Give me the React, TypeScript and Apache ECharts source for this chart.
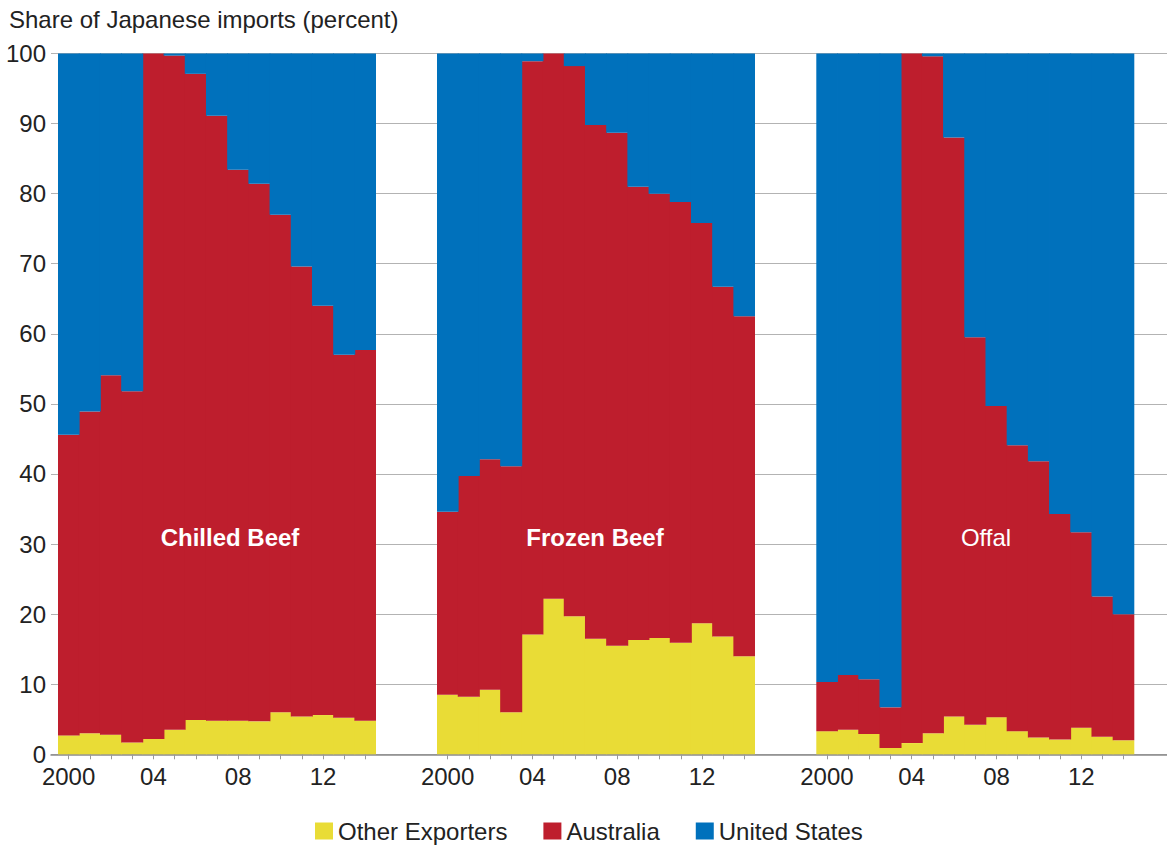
import React, { useEffect, useRef } from "react";
import * as echarts from "echarts";

const FONT = '"Liberation Sans", Arial, Helvetica, sans-serif';

const years = ["2000","2001","2002","2003","2004","2005","2006","2007","2008","2009","2010","2011","2012","2013","2014"];
const tickLabels = ["2000","","","","04","","","","08","","","","12","",""];
const seriesNames = ["Other Exporters", "Australia", "United States"];
const groups = ["Chilled Beef", "Frozen Beef", "Offal"];

// Chilled beef
const chilledOther = [2.7, 3.0, 2.8, 1.7, 2.2, 3.5, 4.9, 4.8, 4.8, 4.7, 6.0, 5.4, 5.6, 5.2, 4.8];
const chilledAustralia = [42.9, 45.9, 51.3, 50.1, 97.8, 96.2, 92.2, 86.3, 78.6, 76.7, 71.0, 64.2, 58.4, 51.8, 52.9];
const chilledUS = [54.4, 51.1, 45.9, 48.2, 0, 0.3, 2.9, 8.9, 16.6, 18.6, 23.0, 30.4, 36.0, 43.0, 42.3];

// Frozen beef
const frozenOther = [8.5, 8.2, 9.2, 6.0, 17.1, 22.2, 19.7, 16.5, 15.5, 16.3, 16.6, 15.9, 18.7, 16.8, 14.0];
const frozenAustralia = [26.1, 31.5, 32.9, 35.1, 81.8, 77.8, 78.5, 73.3, 73.2, 64.7, 63.4, 62.9, 57.1, 49.9, 48.5];
const frozenUS = [65.4, 60.3, 57.9, 58.9, 1.1, 0, 1.8, 10.2, 11.3, 19.0, 20.0, 21.2, 24.2, 33.3, 37.5];

// Offal
const offalOther = [3.3, 3.5, 2.9, 0.9, 1.6, 3.0, 5.4, 4.2, 5.3, 3.3, 2.4, 2.1, 3.8, 2.5, 2.0];
const offalAustralia = [7.0, 7.8, 7.8, 5.8, 98.4, 96.6, 82.6, 55.3, 44.4, 40.8, 39.4, 32.2, 27.9, 20.0, 18.0];
const offalUS = [89.7, 88.7, 89.3, 93.3, 0, 0.4, 12.0, 40.5, 50.3, 55.9, 58.2, 65.7, 68.3, 77.5, 80.0];

const yTicks = [0, 10, 20, 30, 40, 50, 60, 70, 80, 90, 100];

const COLORS = ["#e9dc36", "#be1e2d", "#0071bc"];

export default function App() {
  const ref = useRef<HTMLDivElement>(null);

  useEffect(() => {
    if (!ref.current) return;
    const chart = echarts.init(ref.current, null, { renderer: "svg" });

    const groupData = [
      [chilledOther, chilledAustralia, chilledUS],
      [frozenOther, frozenAustralia, frozenUS],
      [offalOther, offalAustralia, offalUS],
    ];
    const gridLefts = [58, 437, 816.3];
    const labelX = [230, 595, 986];
    const labelWeight = ["bold", "bold", "normal"];
    const TOP = 53.5;
    const BOTTOM = 92.7;
    const FS = 24;

    const grids: any[] = gridLefts.map((l) => ({ left: l, width: 318, top: TOP, bottom: BOTTOM }));
    grids.push({ left: 51, right: 0, top: TOP, bottom: BOTTOM });

    const xAxes: any[] = gridLefts.map((_, g) => ({
      type: "category",
      gridIndex: g,
      data: years,
      boundaryGap: true,
      axisLine: { show: false },
      axisTick: {
        show: true,
        alignWithLabel: true,
        interval: 0,
        length: 5,
        lineStyle: { color: "#999", width: 1 },
      },
      axisLabel: {
        interval: 0,
        formatter: (_v: string, i: number) => tickLabels[i],
        fontSize: FS,
        color: "#222",
        fontFamily: FONT,
        margin: 10,
      },
      splitLine: { show: false },
      z: 5,
    }));
    xAxes.push({
      type: "value",
      gridIndex: 3,
      min: 0,
      max: 1,
      axisLine: { show: true, lineStyle: { color: "#8a8a8a", width: 1.5 } },
      axisTick: { show: false },
      axisLabel: { show: false },
      splitLine: { show: false },
      z: 1,
    });

    const yAxes: any[] = gridLefts.map((_, g) => ({
      type: "value",
      gridIndex: g,
      min: 0,
      max: 100,
      interval: 10,
      show: false,
    }));
    yAxes.push({
      type: "value",
      gridIndex: 3,
      min: yTicks[0],
      max: yTicks[yTicks.length - 1],
      interval: 10,
      axisLine: { show: false },
      axisTick: { show: false },
      axisLabel: { fontSize: FS, color: "#222", fontFamily: FONT, margin: 5 },
      splitLine: { show: true, lineStyle: { color: "#b3b3b3", width: 1.2 } },
    });

    const series: any[] = [];
    groupData.forEach((arrs, g) => {
      arrs.forEach((d, s) => {
        series.push({
          type: "bar",
          name: seriesNames[s],
          xAxisIndex: g,
          yAxisIndex: g,
          stack: "g" + g,
          data: d,
          barWidth: "104%",
          itemStyle: { color: COLORS[s], borderWidth: 0 },
          emphasis: { disabled: true },
        });
      });
    });

    const graphic: any[] = [
      {
        type: "text",
        x: 9,
        y: 19,
        style: {
          text: "Share of Japanese imports (percent)",
          fontSize: FS,
          fontFamily: FONT,
          fill: "#222",
          verticalAlign: "middle",
        },
      },
    ];
    groups.forEach((name, g) => {
      graphic.push({
        type: "text",
        x: labelX[g],
        y: 537,
        z: 100,
        style: {
          text: name,
          fontSize: FS,
          fontWeight: labelWeight[g],
          fontFamily: FONT,
          fill: "#ffffff",
          align: "center",
          verticalAlign: "middle",
        },
      });
    });

    chart.setOption({
      animation: false,
      backgroundColor: "#ffffff",
      textStyle: { fontFamily: FONT },
      grid: grids,
      xAxis: xAxes,
      yAxis: yAxes,
      series,
      legend: {
        data: seriesNames,
        left: 315,
        top: 819,
        padding: 0,
        icon: "rect",
        itemWidth: 18,
        itemHeight: 17,
        itemGap: 36,
        selectedMode: false,
        textStyle: { fontSize: FS, color: "#222", fontFamily: FONT },
      },
      graphic,
    });

    return () => chart.dispose();
  }, []);

  return (
    <div
      ref={ref}
      style={{ position: "absolute", left: 0, top: 0, width: 1167, height: 847 }}
    />
  );
}
